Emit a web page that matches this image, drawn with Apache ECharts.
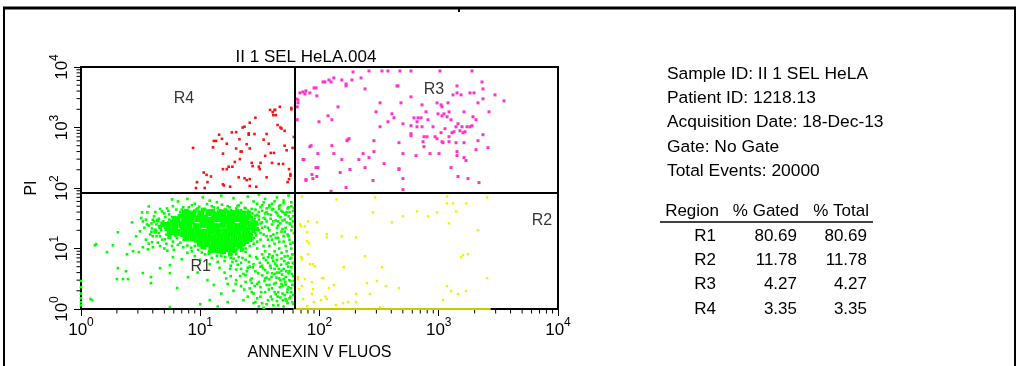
<!DOCTYPE html>
<html><head><meta charset="utf-8">
<script src="https://cdn.jsdelivr.net/npm/echarts@6/dist/echarts.min.js"></script>
<style>html,body{margin:0;padding:0;background:#fff}#c{width:1019px;height:366px}</style>
</head><body><div id="c"></div>
<script>
// ---------- data ----------
const chartTitle = 'II 1 SEL HeLA.004';
const xAxisName = 'ANNEXIN V FLUOS';
const yAxisName = 'PI';
const axisMin = 1, axisMax = 10000;
const minorTicks = [2,3,4,5,6,7,8,9,20,30,40,50,60,70,80,90,200,300,400,500,600,700,800,900,2000,3000,4000,5000,6000,7000,8000,9000];
const gateX = 62, gateY = 85;

const sampleId = 'II 1 SEL HeLA';
const patientId = '1218.13';
const acquisitionDate = '18-Dec-13';
const gateName = 'No Gate';
const totalEvents = 20000;
const tableHeader = ['Region', '% Gated', '% Total'];
const regionNames = ['R1', 'R2', 'R3', 'R4'];
const pctGated = [80.69, 11.78, 4.27, 3.35];
const pctTotal = [80.69, 11.78, 4.27, 3.35];
const regionLabelAt = [[10.1, 5.1], [7345, 29.2], [912, 4180], [7.3, 2975]];

// R1 dense core (live cells)
const r1Core = [
[7.5,38],[8.6,37],[10.1,37.5],[11.8,39],[13.5,36],[15.5,38],[17.8,37],[20,35],[22.5,37],
[6.4,30],[7.4,31],[8.4,29],[9.6,31],[10.9,30],[12.3,29],[14,31],[16,30],[18.2,29],[20.8,31],[23.5,29],
[5.3,24],[6.1,23],[7,25],[8,24],[9.2,23],[10.5,25],[12,24],[13.7,23],[15.6,25],[17.8,24],[20.3,23],[23,24],[26.5,23],
[5.6,19],[6.4,18.5],[7.3,19.5],[8.3,18.8],[9.5,19],[10.8,18.5],[12.3,19.4],[14,18.8],[16,19],[18.3,18.6],[20.8,19.2],[24,18.5],
[7.6,15.3],[8.7,15],[9.9,15.6],[11.3,15.2],[12.9,15],[14.7,15.5],[16.8,15.1],[19.2,15.3],[22,15],[24.5,15.4],
[10,12.2],[11.4,12],[13,12.4],[14.8,12.1],[16.9,12.3],[19.3,12],[22,12.2],
[12.5,9.8],[14.2,9.6],[16.2,9.9],[18.5,9.7]
];
// R1 core rim
const r1Rim = [
[6.8,35],[9,41],[12.8,42],[16.6,41],[19.2,40],[24.8,33],[26,27],[27.8,24],[28,20],[26.2,17.2],[24,12.8],[21,10.8],
[19.6,9.2],[15.2,8.6],[12,8.8],[9.2,13.4],[7,16.8],[5.2,21],[4.8,26],[5.8,28],[8.2,34],[11,33.5],[14.5,34],[20.5,33],
[22.8,27],[25,21],[4.6,23],[6,32],[10.4,10.6],[17.3,10.6],[23,33.5],[14.8,41.5],[29.5,26],[30,21],[27,14.5],[22.5,9.6],
[18,8],[5.5,15.5],[4.2,19],[4.4,29],[7.6,42],[10.5,44],[20.5,42],[25.5,38]
];
// R1 scattered events
const r1Dots = [
[5.8,64.7],[3.7,49.6],[3.25,39.5],[3.6,39.5],[2.68,27],[3.3,28],[4.77,41],[5.27,46],[5.47,36.6],[2.04,18.5],
[3.12,19.2],[3.58,25],[3.94,21.5],[2.9,15.9],[2.57,11.8],[2.43,8.04],[2.73,9],[3.06,8.7],[3.3,10.5],[3.64,9.7],
[3.94,12.7],[4,15.9],[4.6,15.9],[5.06,14.2],[5.57,15.9],[6.1,18.5],[1.31,11.3],[1.85,11.3],[1.65,8.7],[2.04,4.73],
[2.38,4.22],[2,3.12],[2.25,3.12],[2.48,3.12],[3.3,3.92],[3.86,3.36],[3.86,2.68],[4.6,4.73],[5.57,3.92],[5.9,7.18],
[5.57,5.3],[7,6.65],[7.9,3.36],[6.4,2.22],[1.24,1.4],[1,2.3],[1,1.8],[1,1.5],[1,1.3],[1,1.15],[1,2.9],[5.57,1.08],
[1.2,1.46],[1.34,11.8],
[6.5,60],[7.8,66],[9,55],[10.5,70],[12,62],[13.8,58],[15,75],[17,50],[19,68],[22,57],[25,72],[28,60],[31,78],
[35,66],[40,55],[44,70],[50,62],[55,75],[58,50],[8,48],[11,45],[14,47],[18,43],[24,46],[29,44],[33,52],[38,48],
[46,45],[53,40],[60,42],[7,44],[9.5,46],[12.5,50],[16,44],[20,46],[21,52],
[26,40],[27,33],[28,28],[29,24],[30,36],[31,30],[31,20],[32,26],[33,42],[34,17],[34,32],[35,23],[36,28],[37,37],
[37,14],[38,20],[39,31],[40,25],[41,45],[41,17],[42,12],[43,29],[44,22],[45,35],[45,15],[46,10],[47,26],[48,19],
[49,40],[50,13],[51,30],[52,22],[53,9],[54,17],[55,34],[56,26],[57,12],[58,20],[59,8],[60,28],[28,12],[30,10],
[32,14],[35,9],[38,11],[26,16],[29,18],[33,8],[40,7],[44,6.5],[27,45],[36,46],[47,52],[55,48],[24,34],[25,26],
[23,20],[22,16],[24,13],[21,12],[24,40],[25,36],[27,30],[28,20],[26,22],[27,17],[25,14],[26,11],[29,35],[24,10],
[15,7.5],[16,6.2],[17.5,7.8],[18,5.2],[19,6.8],[20,4.5],[21,7.2],[22,5.8],[23,3.8],[24,6.5],[25,4.8],[26,7.6],
[27,3.2],[28,5.5],[29,4.2],[30,6.8],[31,2.8],[32,5],[33,3.6],[34,7],[35,4.4],[36,2.5],[37,5.8],[38,3.1],[39,4.8],
[40,2.2],[41,6.2],[42,3.8],[43,2.7],[44,5.2],[45,1.9],[46,4],[47,3],[48,6.8],[49,2.4],[50,4.6],[51,1.7],[52,3.4],
[53,5.6],[54,2.1],[55,3.9],[56,1.5],[57,2.9],[58,4.9],[59,1.3],[60,3.5],[26,2.2],[28,1.8],[30,1.5],[33,1.25],
[35,1.9],[37,1.4],[39,1.6],[41,1.15],[44,1.35],[47,1.55],[50,1.1],[54,1.25],[58,1.9],[24,2.8],[22,2.4],[20,3],
[19,2],[18,3.5],[17,2.6],[16,4],[25,1.6],[29,1.3],[31,1.1],[43,1.75],[52,1.45],[42,4.6],[36,3.3],[32,2.3],[27,2.7],
[48,2.6],[55,2.3],[60,1.7],[61,5.6],[61,2.5],
[11,8],[12.5,7],[13.5,9],[14,6],[16,8.5],[18.5,9],[20,8],[22,9.2],[24,8.8],[10,6.5],[12,5.5],[14.5,4.8],[9,7.5],
[9.5,4],[11.5,3],[13,2.5],[15,1.8],[12,1.4],[10,1.2],[17,1.3],[14,1.1],
[4,30],[4.3,25],[4.6,22],[4.9,28],[5.1,33],[4.5,18],[4.8,14],[5.2,12],[5.5,20],[4.2,20.5],[3.9,26],[4.1,34],[3.5,30],
[3.8,17],[4.4,12.5],[5,10],[5.8,11],[6,9.5],[6.5,11.5],[7.2,10.5],[7.8,8.5],[8.5,9],
[4.2,40],[4.6,45],[5,38],[5.4,42],[5.9,50],[6.3,44],[6.8,40],[7.2,48],[7.9,42],[8.5,52],[9.2,44],[9.8,49],[10.6,42],
[11.4,54],[12.2,43],[13,48],[14.2,42],[15.2,53],[16.4,44],[17.6,48],[18.8,41],[20.5,50],[22,43],[23.6,47],[25.2,42],
[3.4,22],[3.7,24],[3.9,19],[4.1,28],[4.3,16],[4.5,31],[4.7,20],[4.9,24],[5.2,17],[5.4,27],[3.2,32],[3.5,14],[3.7,12],
[4,10.5],[4.6,11],[5.3,9.2],[5.9,13],[6.2,16],[6.8,12.5],[7.3,13.8],[7.8,11.2],[8.4,10.3],[9,11],[9.6,9.5],[10.3,8.6],
[11,10],[11.8,8.2],[12.8,8.8],[13.8,7.6],[15,8.9],[16.2,7.2],[17.5,8.4],[19,10.5],[20.5,9.8],[22,10.8],[23.5,11.5],
[25,12.5],[26.5,13.5],[28,15],[29.5,16.5],[27.5,19],[28.8,22],[30.2,25],[27,26.5],[28.5,31],[26.2,34],[27.4,38],
[25.4,31],[23.8,33],[22.4,35],[21,40],[19.5,39],[6,27],[5.8,33],[6.6,35],[7.1,36],[5.5,30],[6.9,21],[7.4,27],[8.6,33],
[9.6,35],[10.8,34],[12.6,33],[14.8,34],[16.9,33],[19,32],[21.8,27],[22.7,21],[24.2,21],[25.8,19],[26.8,15.5],[25.5,17],
[7.2,17],[6.4,14.8],
[30,55],[32,48],[34,58],[36,40],[38,52],[40,44],[42,60],[44,38],[46,50],[48,42],[50,56],[52,36],[54,46],[56,40],
[58,58],[60,34],[61,47],[31,34],[33,27],[35,38],[37,22],[39,36],[41,28],[43,40],[45,24],[47,33],[49,21],[51,38],
[53,27],[55,16],[57,31],[59,23],[61,18],[30,13],[32,18],[34,11],[36,16],[38,8],[40,14],[42,9],[44,18],[46,13],
[48,8.5],[50,16],[52,11],[54,7.5],[56,14],[58,10],[60,12.5],[61,8],[33,22],[39,16],[45,28],[51,19],[57,25],[29,28],
[31,40],[35,31],[43,15],[49,29],
[16.5,3.2],[17.8,4.6],[18.6,6],[19.8,2.6],[20.6,5.4],[21.6,3.5],[22.6,7],[23.4,2.1],[24.6,4.2],[25.6,6],[26.4,3],
[27.6,4.9],[28.6,2.4],[29.4,7.2],[30.6,3.9],[31.6,5.8],[32.4,1.9],[33.6,4.7],[34.6,2.9],[35.6,6.4],[36.6,4],[37.6,2.1],
[38.6,5.2],[39.6,3.4],[40.6,7.5],[41.6,2.6],[42.6,5.6],[43.6,3.3],[44.6,1.6],[45.6,4.6],[46.6,2.3],[47.6,5.4],
[48.6,3.7],[49.6,1.4],[50.6,6.2],[51.6,2.8],[52.6,4.2],[53.6,1.9],[54.6,5],[55.6,3],[56.6,6.8],[57.6,2.2],[58.6,3.8],
[59.6,5.8],[60.6,2.9],[28,1.25],[32,1.6],[36,1.2],[40,1.45],[45,1.15],[49,1.8],[53,1.35],[57,1.6],[60.5,1.2],[34,1.05],
[42,1.9],[30,2.6],[38,2.5],[46,3.2],[52,2.5],[56,4.2],[44,4],[48,4.3],[55,5.8],[37,7.2],[44,7.8],[51,7.4],[58,7],
[26,5],[24,3.6],[22,4.6],[20,6.2],[18,7],[23,1.4],[27,1.9],[40,3.9],[33,5.2],[35,3.2],[50,3.1],[59,2.5]
];
// R2 events (early apoptotic)
const r2Dots = [
[71.3,72.5],[80.2,28.1],[70,23.2],[75.5,23.2],[78.8,18.5],[78.8,13.2],[81.7,12.2],[95.3,27],[115,17.2],[115,15.3],
[139,64.7],[154,15.9],[202,15.3],[281,39.5],[292,69.8],[405,27],[501,34],[657,41],[812,34],[967,39.5],[1173,72.5],
[1173,55.6],[1316,55.6],[1396,41],[1693,55.6],[1219,26.1],[2133,20],[2540,69.8],[70,7.18],[71.3,6.9],[80.2,8.04],
[88.2,5.5],[91.6,5.1],[160,4.91],[241,7.45],[334,4.91],[1537,7.18],[1597,7.74],[1759,8.04],[66,3.36],[75.5,3.12],
[86.5,2.78],[105,3.24],[108,3.24],[132,2.48],[250,2.68],[303,2.89],[361,2.39],[464,2.22],[1173,2.39],[1267,1.98],
[1693,1.98],[2540,3.24],[71.3,2.39],[67.4,2.13],[120,2.22],[115,1.46],[112,1.6],[103,1.41],[86.5,1.77],[73,1.46],
[78.8,1.12],[89.9,1.3],[137,1.16],[157,1.25],[173,1.3],[202,1.77],[202,1.3],[265,1.77],[322,1.08],[1086,1.41],
[1450,1.77],[68.6,25.1],[71.3,6.65],[88.2,2.13],[66,3.12],[83,5.5]
];
// R2 events piled on the axis floor
const r2Floor = [66,74,82,92,103,115,128,143,160,178,199,222,248,277,309,345,385,430,480,536,598,668,745,832,929,1037,1157,1292,1442,1610,1797,2006,2240,2500];
// R3 events (late apoptotic)
const r3Dots = [
[191,8270],[260,8600],[334,8600],[375,8600],[447,4865],[111,5665],[120,6110],[125,5665],[132,6590],[154,6110],
[167,5250],[167,4865],[187,6110],[223,6590],[241,4345],[90,4510],[93.5,4510],[77,4030],[75.5,3593],[83,3730],
[68.6,3730],[95,3335],[63.5,2975],[66,2555],[65,2196],[143,2196],[322,2555],[298,1816],[405,1683],[421,1446],
[118,1560],[127,1342],[99,1244],[65,1342],[375,1244],[322,1029],[177,653],[170,605],[286,605],[464,561],[85,501],
[127,501],[286,399],[97,370],[132,370],[232,370],[74,295],[154,295],[260,318],[214,295],[348,253],[97,217],
[93.5,217],[180,202],[241,217],[464,202],[149,180],[86.5,167],[95,155],[88,143],[77,133],[281,133],[167,102],[125,88],
[473,8600],[585,8600],[1024,8600],[1900,8600],[455,4865],[2304,5665],[1422,4865],[2349,4345],[1316,3460],[1422,3730],
[1537,3460],[1828,3730],[1975,3730],[2963,3460],[3524,2757],[585,3210],[2349,2975],[482,2555],[724,2368],[967,2555],
[1045,2368],[1065,2196],[1196,2555],[2133,2555],[2638,1816],[782,1816],[986,1683],[1065,1560],[1107,1683],[1219,1816],
[1629,1816],[1173,1502],[620,1446],[670,1446],[710,1446],[812,1342],[1267,1342],[1937,1502],[2052,1342],[501,1153],
[657,1244],[657,1029],[724,1029],[585,1068],[895,1029],[1128,954],[1396,1029],[1450,1153],[1566,1029],[1726,1029],
[1828,1029],[1900,1068],[1507,884],[1597,820],[1660,851],[1342,851],[1292,820],[1219,704],[1045,820],[931,704],
[585,789],[585,730],[752,704],[797,704],[967,653],[2349,760],[738,582],[752,482],[1065,582],[1086,561],[1219,582],
[1396,561],[1629,561],[2133,605],[2588,464],[501,370],[645,343],[845,370],[1005,370],[1422,399],[1422,343],[2052,430],
[1629,318],[1693,284],[464,209],[1267,217],[1450,155],[1759,143],[501,143],[2175,123],[501,94],
[72.7,3875],[83,482],[72.7,295],[77,138],[66,2862],[107,5665],[173,629]
];
// R4 events (necrotic)
const r4Dots = [
[8.7,460],[9.4,125],[9.2,100],[10.7,180],[11.3,165],[12.3,155],[12.8,470],[13,600],[13.6,600],[14.4,760],[15.2,650],
[15.5,370],[15.5,205],[15.5,115],[16.7,540],[16.7,205],[17.3,225],[18.4,830],[18.6,225],[19.5,270],[20,840],[20,450],
[21,150],[21.3,640],[21.5,300],[21.8,400],[22.3,400],[22.7,1000],[23.5,1030],[23.5,145],[24.5,530],[25.5,760],
[25.5,800],[26,1200],[26,450],[26,140],[27,260],[27.5,230],[28.5,780],[29,1450],[31,225],[31.5,205],[32,260],
[34,630],[35,340],[36,150],[36,780],[37.5,540],[38.5,1950],[39,380],[40,260],[40.5,1800],[41,1600],[41.5,380],
[42,1950],[42.5,1950],[43,1600],[44.5,1100],[45.5,250],[46.5,2200],[47,1000],[48,960],[49.5,250],[51,880],[51,500],
[53,420],[55.5,205],[57,170],[57,160],[58,2000],[58,2100],[59.5,460],[61,700],
[10.9,100],[11.5,125],[15.8,110],[17.8,105],[24.5,135],[26,108],[29.5,105],[54,125],[55.5,140]
];

// ---------- chart ----------
const FONT = "'Liberation Sans', Arial, sans-serif";
const supLabel = v => '{b|10}{s|' + Math.round(Math.log10(v)) + '}';
const labelRich = {
  b: { fontSize: 17, lineHeight: 22, verticalAlign: 'bottom', fontFamily: FONT, color: '#000' },
  s: { fontSize: 12, lineHeight: 22, verticalAlign: 'top', fontFamily: FONT, color: '#000' }
};
const axisCommon = {
  type: 'log', logBase: 10, min: axisMin, max: axisMax, splitNumber: 4,
  axisLine: { show: true, lineStyle: { color: '#000', width: 2 } },
  axisTick: { show: true, length: 7, lineStyle: { color: '#000', width: 1 } },
  splitLine: { show: false },
  nameLocation: 'middle',
  nameTextStyle: { fontSize: 16, fontFamily: FONT, color: '#000' }
};

const chart = echarts.init(document.getElementById('c'), null, { renderer: 'canvas' });

const infoLines = [
  'Sample ID: ' + sampleId,
  'Patient ID: ' + patientId,
  'Acquisition Date: ' + acquisitionDate,
  'Gate: ' + gateName,
  'Total Events: ' + totalEvents
];
const graphics = [
  { type: 'line', shape: { x1: 3, y1: 8, x2: 1016, y2: 8 }, style: { stroke: '#000', lineWidth: 3 } },
  { type: 'line', shape: { x1: 4, y1: 8, x2: 4, y2: 380 }, style: { stroke: '#000', lineWidth: 2 } },
  { type: 'line', shape: { x1: 1015, y1: 8, x2: 1015, y2: 380 }, style: { stroke: '#000', lineWidth: 2 } },
  { type: 'rect', shape: { x: 458, y: 9, width: 2, height: 3 }, style: { fill: '#000' } }
];
infoLines.forEach((t, i) => graphics.push({
  type: 'text', x: 667, y: 74 + i * 24.3,
  style: { text: t, font: '17.4px ' + FONT, fill: '#000', textAlign: 'left', textVerticalAlign: 'middle' }
}));
const colRight = [719, 799, 869];
const valRight = [716, 797, 867];
tableHeader.forEach((t, i) => graphics.push({
  type: 'text', x: colRight[i], y: 211,
  style: { text: t, font: '17px ' + FONT, fill: '#000', textAlign: 'right', textVerticalAlign: 'middle' }
}));
graphics.push({ type: 'line', shape: { x1: 660, y1: 222, x2: 873, y2: 222 }, style: { stroke: '#000', lineWidth: 1.5 } });
regionNames.forEach((r, i) => {
  const row = [r, pctGated[i].toFixed(2), pctTotal[i].toFixed(2)];
  row.forEach((t, j) => graphics.push({
    type: 'text', x: valRight[j], y: 236 + i * 24.4,
    style: { text: t, font: '17px ' + FONT, fill: '#000', textAlign: 'right', textVerticalAlign: 'middle' }
  }));
});

const dotSeries = (data, color, size) => ({
  type: 'scatter', data: data, symbol: 'rect', symbolSize: size, silent: true,
  itemStyle: { color: color, opacity: 1 }, large: false
});

chart.setOption({
  animation: false,
  backgroundColor: '#fff',
  title: {
    text: chartTitle, left: 301, top: 44, textAlign: 'center',
    textStyle: { fontSize: 17, fontWeight: 'normal', fontFamily: FONT, color: '#000' }
  },
  grid: { left: 81, top: 67, width: 477, height: 243, show: true, borderColor: '#000', borderWidth: 2, backgroundColor: 'transparent' },
  xAxis: Object.assign({}, axisCommon, {
    name: xAxisName, nameGap: 36,
    axisLabel: { formatter: supLabel, rich: labelRich, margin: 8 }
  }),
  yAxis: Object.assign({}, axisCommon, {
    name: yAxisName, nameGap: 41, nameRotate: 90,
    axisLabel: { formatter: supLabel, rich: labelRich, margin: 10, rotate: 90 }
  }),
  graphic: graphics,
  series: [
    dotSeries(r1Core, '#00ff00', 7),
    dotSeries(r1Rim, '#00ff00', 4),
    dotSeries(r1Dots, '#00ff00', 2.6),
    dotSeries(r2Dots, '#f2f200', 2.4),
    dotSeries(r2Floor.map(v => [v, axisMin]), '#c8c800', [9, 2]),
    dotSeries(r3Dots, '#ff33cc', 3),
    dotSeries(r4Dots, '#ff1111', 2.6),
    {
      type: 'custom', silent: true, clip: false, z: 5,
      data: minorTicks.map(v => [v, axisMin]),
      renderItem: (p, api) => {
        const pt = api.coord([api.value(0), axisMin]);
        return { type: 'line', shape: { x1: pt[0], y1: pt[1] + 1, x2: pt[0], y2: pt[1] + 4.5 }, style: { stroke: '#000', lineWidth: 1 } };
      }
    },
    {
      type: 'custom', silent: true, clip: false, z: 5,
      data: minorTicks.map(v => [axisMin, v]),
      renderItem: (p, api) => {
        const pt = api.coord([axisMin, api.value(1)]);
        return { type: 'line', shape: { x1: pt[0] - 1, y1: pt[1], x2: pt[0] - 4.5, y2: pt[1] }, style: { stroke: '#000', lineWidth: 1 } };
      }
    },
    {
      type: 'scatter', silent: true, z: 10, symbolSize: 0,
      data: regionNames.map((n, i) => ({ name: n, value: regionLabelAt[i] })),
      label: { show: true, position: 'inside', formatter: '{b}', color: '#000', fontSize: 16, fontFamily: FONT },
      markLine: {
        silent: true, symbol: 'none', label: { show: false }, animation: false,
        lineStyle: { color: '#000', width: 2, type: 'solid' },
        data: [{ xAxis: gateX }, { yAxis: gateY }]
      }
    }
  ]
});
</script>
</body></html>
